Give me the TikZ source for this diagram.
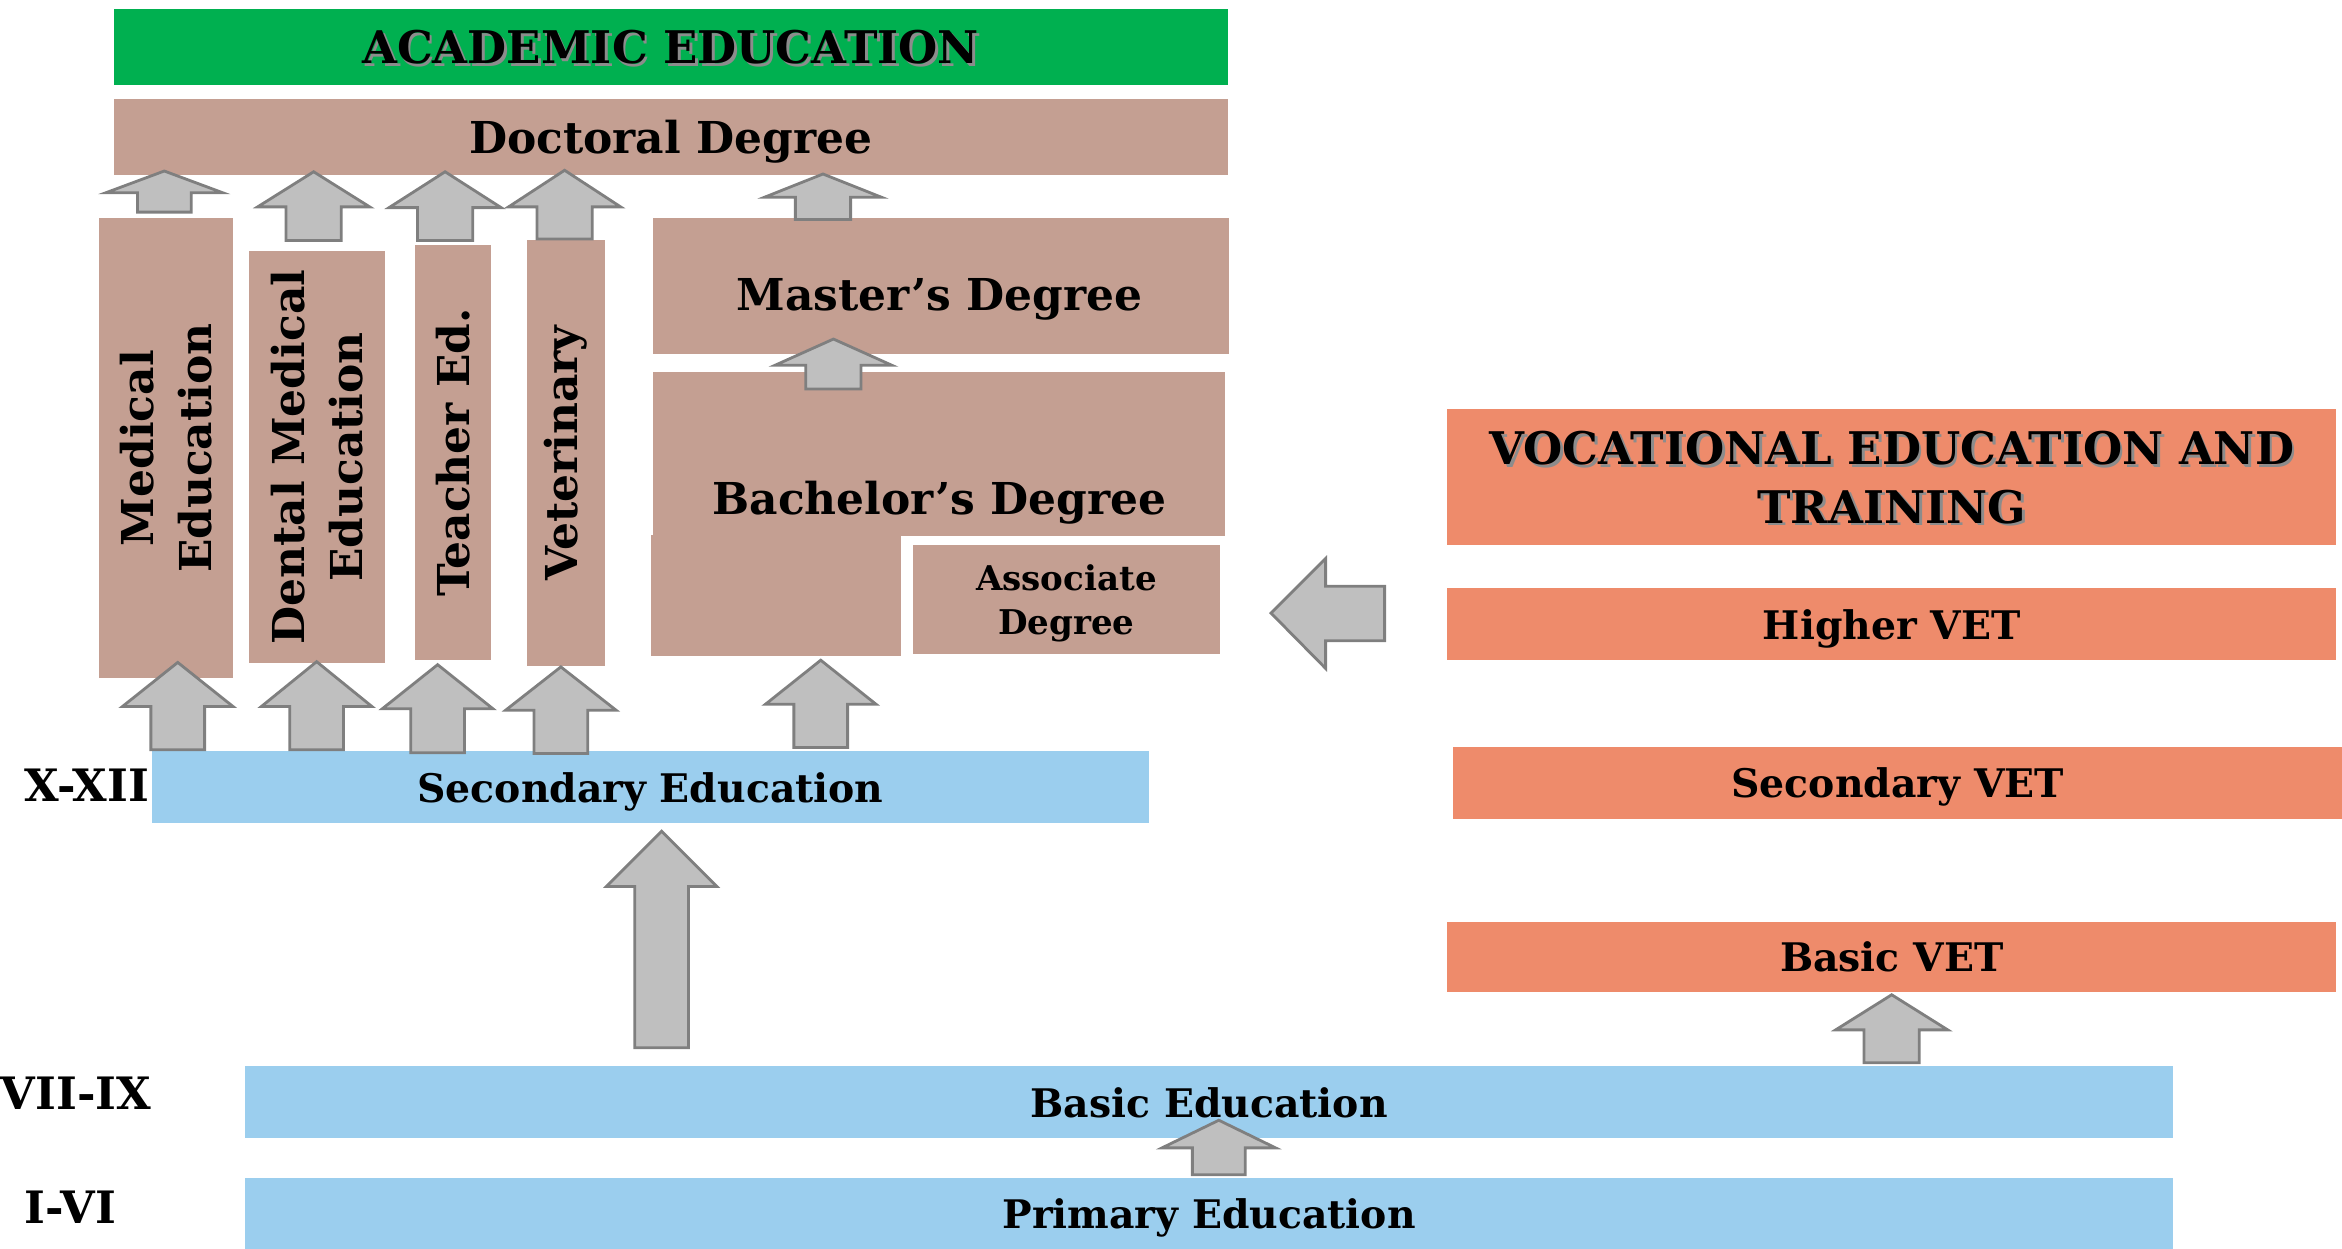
\documentclass[tikz,border=0pt]{standalone}
\usepackage{fontspec}
\setmainfont{DejaVu Serif}

\definecolor{acadgreen}{HTML}{00B050}
\definecolor{degbrown}{HTML}{C49F92}
\definecolor{schoolblue}{HTML}{9BCEEE}
\definecolor{vetorange}{HTML}{EE8B6B}
\definecolor{arrgray}{HTML}{BFBFBF}
\definecolor{arredge}{HTML}{7F7F7F}

\newcommand{\ux}{0.014936cm}
\newcommand{\shadowtxt}[1]{\makebox[0pt][l]{\kern0.8pt\raisebox{-0.8pt}{\textcolor{black!45}{#1}}}#1}
% centre x, tip y, head base y, bottom y, half head, half shaft
\newcommand{\uparr}[6]{%
  \draw[blockarr] (#1-#6,#4) -- (#1-#6,#3) -- (#1-#5,#3) -- (#1,#2)
    -- (#1+#5,#3) -- (#1+#6,#3) -- (#1+#6,#4) -- cycle;}

\tikzset{
  area/.style={inner sep=0pt, draw=none, text depth=0pt, font=\bfseries\fontsize{12.5}{15}\selectfont},
  degbox/.style={area, fill=degbrown},
  schoolbox/.style={area, fill=schoolblue, font=\bfseries\fontsize{11.2}{14}\selectfont},
  vetbox/.style={area, fill=vetorange, font=\bfseries\fontsize{11.2}{14}\selectfont},
  titlebox/.style={area, align=center, font=\bfseries\fontsize{12.8}{16.6}\selectfont},
  vtext/.style={rotate=90, align=center, inner sep=0pt, font=\bfseries\fontsize{12.5}{16.6}\selectfont},
  grade/.style={inner sep=0pt, anchor=west, font=\bfseries\fontsize{12.7}{15}\selectfont},
  blockarr/.style={fill=arrgray, draw=arredge, line width=0.8pt, line join=miter},
}

\begin{document}
\begin{tikzpicture}[x=\ux, y=-\ux]
  \useasboundingbox (0,0) rectangle (1568,836);

  \node[titlebox, fill=acadgreen, minimum width=746*\ux, minimum height=51*\ux] (acad) at (449,31.5) {\shadowtxt{ACADEMIC EDUCATION}};
  \node[degbox, minimum width=746*\ux, minimum height=51*\ux] (doct) at (449,91.5) {Doctoral Degree};

  \node[degbox, minimum width=90*\ux, minimum height=308*\ux] (med) at (111,300) {};
  \node[degbox, minimum width=91*\ux, minimum height=276*\ux] (dent) at (212.5,306) {};
  \node[degbox, minimum width=51*\ux, minimum height=278*\ux] (teach) at (303.5,303) {};
  \node[degbox, minimum width=52*\ux, minimum height=285*\ux] (vetr) at (379,303.5) {};
  \node[vtext] (medtxt) at (med) {Medical\\Education};
  \node[vtext] (denttxt) at (dent) {Dental Medical\\Education};
  \node[vtext] (teachtxt) at (teach) {Teacher Ed.};
  \node[vtext] (vetrtxt) at (vetr) {Veterinary};

  \node[degbox, minimum width=386*\ux, minimum height=91*\ux] (mast) at (630,191.5) {};
  \node[area] (masttxt) at (629,197) {Master’s Degree};
  \node[degbox, minimum width=383*\ux, minimum height=110*\ux] (bachup) at (628.5,304) {};
  \node[degbox, minimum width=167*\ux, minimum height=81*\ux] (bachlow) at (519.5,398.5) {};
  \node[area] (bachtxt) at (629,333) {Bachelor’s Degree};
  \node[degbox, minimum width=206*\ux, minimum height=73*\ux, align=center, font=\bfseries\fontsize{9.7}{12.4}\selectfont] (assoc) at (714,401.5) {Associate\\Degree};

  \node[schoolbox, minimum width=667*\ux, minimum height=48*\ux] (sec) at (435.5,527) {Secondary Education};
  \node[schoolbox, minimum width=1291*\ux, minimum height=48*\ux] (basic) at (809.5,738) {Basic Education};
  \node[schoolbox, minimum width=1291*\ux, minimum height=47*\ux] (prim) at (809.5,812.5) {Primary Education};
  \node[grade] (g3) at (16,526) {X-XII};
  \node[grade] (g2) at (0,732) {VII-IX};
  \node[grade] (g1) at (16,808) {I-VI};

  \node[titlebox, fill=vetorange, minimum width=595*\ux, minimum height=91*\ux] (voc) at (1266.5,319.5) {\shadowtxt{VOCATIONAL EDUCATION AND}\\\shadowtxt{TRAINING}};
  \node[vetbox, minimum width=595*\ux, minimum height=48*\ux] (hvet) at (1266.5,418) {Higher VET};
  \node[vetbox, minimum width=595*\ux, minimum height=48*\ux] (svet) at (1270.5,524) {Secondary VET};
  \node[vetbox, minimum width=595*\ux, minimum height=47*\ux] (bvet) at (1266.5,640.5) {Basic VET};

  \uparr{110}{114.5}{129}{142}{39}{18}
  \uparr{210}{115}{138.5}{161}{37.5}{18.5}
  \uparr{298}{115}{139}{161}{37.5}{18.5}
  \uparr{378}{114}{138.5}{160}{37.5}{18.5}
  \uparr{551}{116.5}{132}{147}{39}{18.5}
  \uparr{558}{227}{244.5}{260.5}{39}{18.5}

  \uparr{119}{443.5}{473}{502}{37}{18}
  \uparr{212}{443}{473}{502}{37}{18}
  \uparr{293}{445}{474.5}{504}{37}{18}
  \uparr{375.5}{446.5}{475.5}{504.5}{37}{18}
  \uparr{549.5}{442}{471.5}{500.5}{37}{18}

  \uparr{443}{556.5}{593.5}{701.5}{37}{18}
  \uparr{816}{750}{768.5}{786.5}{38}{17.7}
  \uparr{1266.5}{666}{689.5}{711.5}{37.5}{18.5}

  \draw[blockarr] (927,392.5) -- (887.5,392.5) -- (887.5,374) -- (851,410.5)
    -- (887.5,447.5) -- (887.5,429) -- (927,429) -- cycle;
\end{tikzpicture}
\end{document}
